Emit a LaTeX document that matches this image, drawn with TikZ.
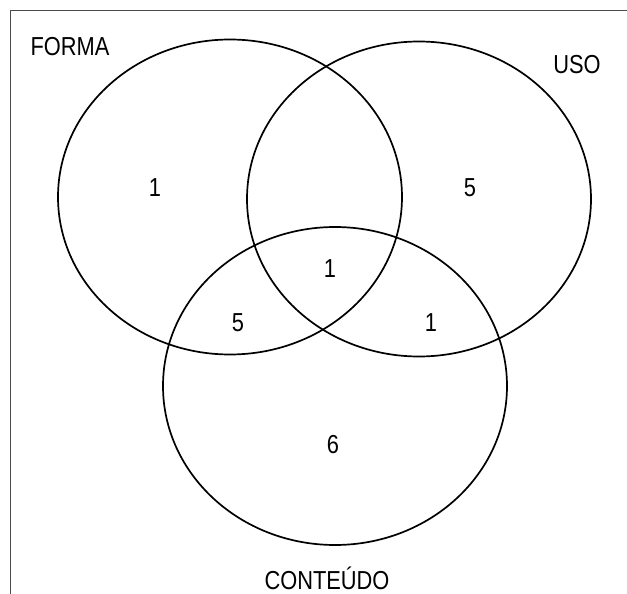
\documentclass[tikz,border=0pt]{standalone}
\usepackage{fontspec}
\setmainfont{Liberation Sans}
\begin{document}
\begin{tikzpicture}[x=1pt,y=-1pt,
  setc/.style={draw=black,line width=1.7pt},
  lbl/.style={font=\fontsize{26}{30}\selectfont,xscale=0.84,inner sep=0pt},
  num/.style={font=\fontsize{26}{30}\selectfont,xscale=0.84,inner sep=0pt}]
\useasboundingbox (0,0) rectangle (627,594);
\draw[draw=black!70,line width=1.1pt] (10.5,594) -- (10.5,10.5) -- (627,10.5);
\draw[setc] (230,197) ellipse [x radius=172,y radius=157.5];
\draw[setc] (419,199) ellipse [x radius=172,y radius=157.5];
\draw[setc] (335,386) ellipse [x radius=172,y radius=159];
\node[lbl] (forma) at (70,47) {FORMA};
\node[lbl] (uso) at (577,65) {USO};
\node[lbl] (cont) at (327,578) {CONTEÚDO};
\node[num] (n1) at (155,188) {1};
\node[num] (n2) at (470,188) {5};
\node[num] (n3) at (330,269) {1};
\node[num] (n4) at (238,323) {5};
\node[num] (n5) at (431,323) {1};
\node[num] (n6) at (333,445) {6};
\end{tikzpicture}
\end{document}
